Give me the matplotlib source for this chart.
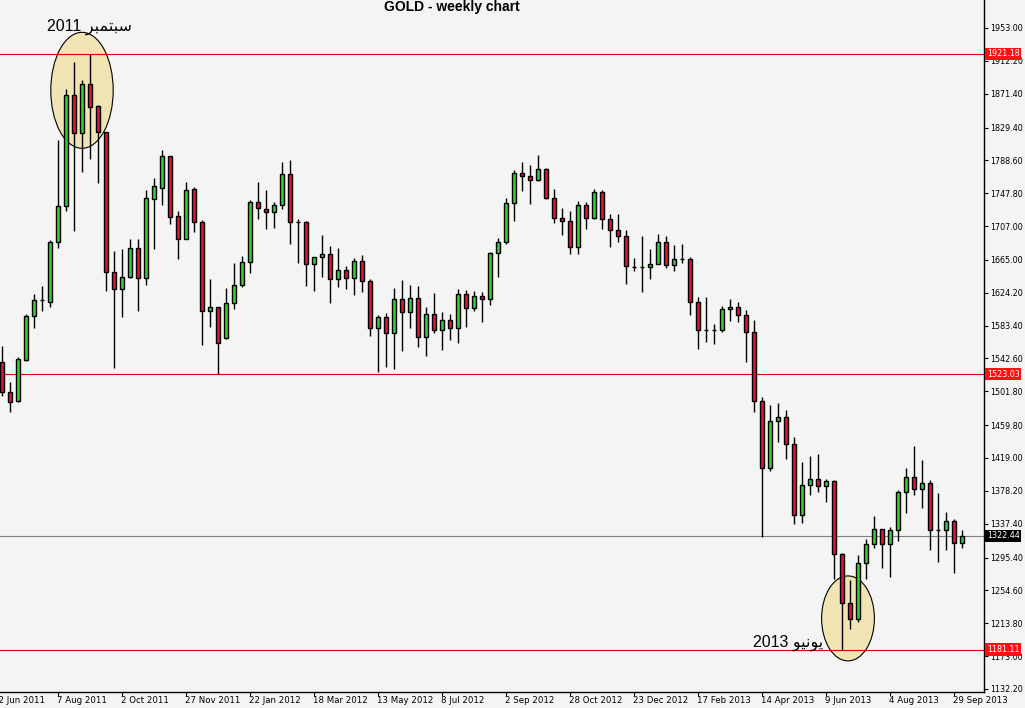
import matplotlib
matplotlib.use("Agg")
import matplotlib.pyplot as plt
from matplotlib.patches import Ellipse
from matplotlib.transforms import blended_transform_factory

# weekly OHLC, 19 Jun 2011 .. 6 Oct 2013
opens = [1538.2, 1501.0, 1489.8, 1540.7, 1595.4, 1614.8, 1612.8, 1687.3, 1732.0, 1869.8,
         1822.6, 1883.5, 1856.1, 1823.9, 1650.0, 1628.9, 1643.8, 1679.8, 1642.5, 1740.6,
         1754.3, 1794.0, 1719.5, 1691.0, 1753.1, 1712.1, 1601.6, 1606.6, 1568.1, 1611.5,
         1633.9, 1662.4, 1737.0, 1728.2, 1724.5, 1733.2, 1771.7, 1712.1, 1712.1, 1660.0,
         1668.7, 1672.4, 1641.3, 1652.5, 1642.5, 1663.7, 1638.8, 1580.5, 1594.1, 1574.3,
         1616.5, 1600.3, 1617.7, 1569.3, 1597.8, 1578.0, 1590.4, 1580.5, 1622.7, 1605.3,
         1620.2, 1616.5, 1673.6, 1687.3, 1735.7, 1772.9, 1769.2, 1764.3, 1777.9, 1741.9,
         1717.0, 1713.3, 1681.0, 1733.2, 1717.0, 1749.3, 1715.9, 1702.2, 1694.7, 1656.2,
         1656.2, 1656.2, 1660.0, 1687.3, 1658.7, 1666.2, 1666.2, 1612.8, 1578.0, 1578.0,
         1578.0, 1604.1, 1606.6, 1596.6, 1575.5, 1489.8, 1406.6, 1464.9, 1469.9, 1436.4,
         1348.3, 1385.5, 1392.9, 1384.2, 1390.5, 1299.8, 1238.9, 1219.1, 1288.6, 1312.2,
         1330.9, 1312.2, 1329.6, 1376.8, 1395.4, 1380.5, 1388.0, 1329.6, 1329.6, 1340.8,
         1313.5]
highs = [1558.1, 1513.4, 1544.4, 1597.8, 1622.7, 1632.6, 1689.7, 1813.9, 1877.3, 1910.8,
         1888.4, 1921.2, 1857.4, 1823.9, 1676.1, 1678.6, 1691.0, 1691.0, 1751.8, 1766.7,
         1801.5, 1794.0, 1725.8, 1761.8, 1755.6, 1714.6, 1641.3, 1606.6, 1630.2, 1661.2,
         1669.9, 1739.4, 1761.8, 1751.8, 1737.0, 1786.6, 1789.1, 1715.9, 1713.3, 1668.7,
         1696.0, 1682.3, 1679.8, 1657.4, 1667.4, 1671.1, 1641.3, 1596.6, 1599.1, 1630.2,
         1640.1, 1633.9, 1632.6, 1606.6, 1623.9, 1600.3, 1597.8, 1628.9, 1627.6, 1626.4,
         1625.2, 1674.8, 1692.2, 1741.9, 1776.7, 1786.6, 1782.9, 1795.3, 1779.2, 1753.1,
         1729.5, 1725.8, 1738.2, 1737.0, 1753.1, 1751.8, 1722.0, 1722.0, 1702.2, 1667.4,
         1694.7, 1678.6, 1697.2, 1694.7, 1683.5, 1684.8, 1668.7, 1619.0, 1619.0, 1585.4,
         1607.8, 1616.5, 1612.8, 1602.8, 1590.4, 1494.8, 1484.8, 1487.3, 1478.6, 1445.1,
         1414.0, 1421.5, 1424.0, 1392.9, 1391.7, 1301.0, 1267.5, 1298.6, 1318.4, 1347.0,
         1330.9, 1333.4, 1379.3, 1406.6, 1433.9, 1416.5, 1391.7, 1375.6, 1352.0, 1343.3,
         1329.6]
lows = [1496.0, 1476.2, 1488.6, 1539.5, 1580.5, 1601.6, 1606.6, 1679.8, 1725.8, 1700.9,
        1774.2, 1790.4, 1760.5, 1626.4, 1530.8, 1594.1, 1642.5, 1601.6, 1633.9, 1678.6,
        1733.2, 1709.6, 1666.2, 1691.0, 1699.7, 1559.4, 1581.7, 1523.0, 1566.8, 1604.1,
        1631.4, 1648.8, 1715.9, 1703.4, 1704.6, 1728.2, 1684.8, 1661.2, 1632.6, 1626.4,
        1643.8, 1611.5, 1631.4, 1628.9, 1621.4, 1625.2, 1570.6, 1525.8, 1532.0, 1529.5,
        1551.9, 1580.5, 1556.9, 1545.7, 1574.3, 1553.1, 1565.6, 1561.9, 1581.7, 1601.6,
        1587.9, 1609.0, 1643.8, 1684.8, 1713.3, 1750.6, 1734.4, 1763.0, 1740.6, 1710.9,
        1696.0, 1672.4, 1672.4, 1703.4, 1715.9, 1703.4, 1681.0, 1687.3, 1635.1, 1651.2,
        1625.2, 1641.3, 1660.0, 1655.0, 1651.2, 1661.2, 1596.6, 1554.4, 1563.1, 1560.6,
        1575.5, 1589.2, 1587.9, 1538.2, 1476.2, 1320.9, 1402.9, 1438.9, 1417.8, 1337.1,
        1338.3, 1373.1, 1376.8, 1364.4, 1268.8, 1181.1, 1206.7, 1215.4, 1268.8, 1307.3,
        1282.4, 1271.3, 1315.9, 1350.8, 1373.1, 1356.9, 1304.8, 1289.9, 1304.8, 1276.2,
        1307.3]
closes = [1501.0, 1488.6, 1542.0, 1595.4, 1615.2, 1614.8, 1687.3, 1732.0, 1869.8, 1822.6,
          1883.5, 1854.9, 1823.9, 1650.0, 1628.9, 1643.8, 1679.8, 1642.5, 1741.9, 1756.8,
          1794.0, 1718.3, 1691.0, 1751.8, 1712.1, 1601.6, 1606.6, 1561.9, 1611.5, 1633.9,
          1662.4, 1737.0, 1729.5, 1724.5, 1733.2, 1771.7, 1712.1, 1712.1, 1660.0, 1668.7,
          1672.4, 1641.3, 1652.5, 1642.5, 1663.7, 1638.8, 1580.5, 1594.1, 1574.3, 1616.5,
          1600.3, 1617.7, 1569.3, 1597.8, 1578.0, 1590.4, 1580.5, 1622.7, 1605.3, 1620.2,
          1616.5, 1673.6, 1687.3, 1735.7, 1772.9, 1769.2, 1764.3, 1777.9, 1741.9, 1717.0,
          1713.3, 1681.0, 1733.2, 1717.0, 1749.3, 1715.9, 1702.2, 1694.7, 1657.4, 1656.2,
          1656.2, 1660.0, 1687.3, 1658.7, 1666.2, 1666.2, 1612.8, 1578.0, 1578.0, 1578.0,
          1604.1, 1606.6, 1596.6, 1575.5, 1489.8, 1406.6, 1464.9, 1469.9, 1436.4, 1348.3,
          1385.5, 1392.9, 1384.2, 1390.5, 1299.8, 1238.9, 1219.1, 1288.6, 1312.2, 1330.9,
          1312.2, 1329.6, 1376.8, 1395.4, 1380.5, 1388.0, 1329.6, 1329.6, 1340.8, 1313.5,
          1322.44]

date_labels = ["12 Jun 2011", "7 Aug 2011", "2 Oct 2011", "27 Nov 2011", "22 Jan 2012",
               "18 Mar 2012", "13 May 2012", "8 Jul 2012", "2 Sep 2012", "28 Oct 2012",
               "23 Dec 2012", "17 Feb 2013", "14 Apr 2013", "9 Jun 2013", "4 Aug 2013",
               "29 Sep 2013"]
date_pos = list(range(-1, 121, 8))

price_ticks = [1953.00, 1912.20, 1871.40, 1829.40, 1788.60, 1747.80, 1707.00, 1665.00,
               1624.20, 1583.40, 1542.60, 1501.80, 1459.80, 1419.00, 1378.20, 1337.40,
               1295.40, 1254.60, 1213.80, 1173.00, 1132.20]
levels = [1921.18, 1523.03, 1181.11]
last_price = 1322.44

BG = "#f4f4f4"
UP = "#32cd32"
DOWN = "#dc143c"
AR_FONT = ["Liberation Sans", "DejaVu Sans"]
AX_FS = 5.8

fig = plt.figure(figsize=(10.25, 7.08), dpi=100, facecolor=BG)
ax = fig.add_axes([0, 16 / 708, 984 / 1025, 692 / 708], facecolor=BG)

x = list(range(len(opens)))
colors = []
for o, c in zip(opens, closes):
    if c > o:
        colors.append(UP)
    elif c < o:
        colors.append(DOWN)
    else:
        colors.append("black")

ax.vlines(x, lows, highs, color="black", linewidth=1.0, zorder=3)
ax.bar(x, [c - o for o, c in zip(opens, closes)], bottom=opens, width=0.6,
       color=colors, edgecolor="black", linewidth=1.0, zorder=4)

# highlighted top / bottom
ax.add_patch(Ellipse((10, 1875.6), 7.8, 144, facecolor="#f0e3b4", edgecolor="black",
                     linewidth=0.8, zorder=1))
ax.add_patch(Ellipse((105.75, 1219.8), 6.6, 105.5, facecolor="#f0e3b4", edgecolor="black",
                     linewidth=0.8, zorder=1))

for lv in levels:
    ax.axhline(lv, color="#e00000", linewidth=0.8, zorder=2)
ax.axhline(last_price, color="#808080", linewidth=0.8, zorder=2)

ax.set_xlim(-0.25, 122.75)
ax.set_ylim(1128.4, 1987.77)

for s in ["top", "left"]:
    ax.spines[s].set_visible(False)
for s in ["right", "bottom"]:
    ax.spines[s].set_color("black")
    ax.spines[s].set_linewidth(1.0)

ax.yaxis.tick_right()
ax.set_yticks(price_ticks)
ax.set_yticklabels([f"{p:.2f}" for p in price_ticks])
ax.tick_params(axis="y", direction="out", length=3, width=0.8, pad=1.5,
               labelsize=AX_FS, colors="black")

ax.set_xticks([p for p in date_pos if p >= 0])
ax.set_xticklabels([])
ax.tick_params(axis="x", direction="out", length=3, width=0.8)
tb = blended_transform_factory(ax.transData, ax.transAxes)
for p, lab in zip(date_pos, date_labels):
    ax.text(p - 0.15, -0.0125, lab, transform=tb, ha="left", va="center",
            fontsize=6.2, clip_on=False)

# price tags on the axis
ta = blended_transform_factory(ax.transAxes, ax.transData)
for lv in levels:
    ax.text(1.003, lv, f"{lv:.2f}", transform=ta, ha="left", va="center", fontsize=AX_FS,
            color="white", zorder=10,
            bbox=dict(boxstyle="square,pad=0.2", facecolor="#ff1010", edgecolor="none"))
ax.text(1.003, last_price, f"{last_price:.2f}", transform=ta, ha="left", va="center",
        fontsize=AX_FS, color="white", zorder=10,
        bbox=dict(boxstyle="square,pad=0.2", facecolor="black", edgecolor="none"))

fig.text(452 / 1025, 1 - 7 / 708, "GOLD - weekly chart", ha="center", va="center",
         fontsize=10, fontweight="bold", family="Liberation Sans")

# Arabic labels (shaped glyphs in visual order)
fig.text(47 / 1025, 1 - 31 / 708, "2011 \ufeae\ufe92\ufee4\ufe98\ufe92\ufeb3", ha="left",
         va="baseline", fontsize=11.5, family=AR_FONT)
fig.text(753 / 1025, 1 - 647 / 708, "2013 \ufeee\ufef4\ufee7\ufeee\ufef3", ha="left",
         va="baseline", fontsize=11.5, family=AR_FONT)

fig.savefig("out.png", dpi=100, facecolor=BG)
